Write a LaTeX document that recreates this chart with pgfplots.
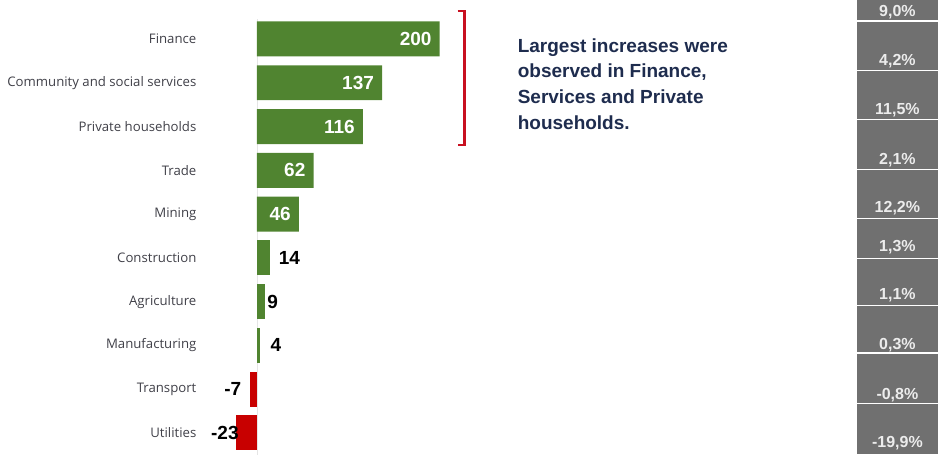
\documentclass[border=0pt]{standalone}
\usepackage{pgfplots}
\pgfplotsset{compat=1.18}
\usepackage{fontspec}
\setmainfont{Open Sans}
\newfontfamily\arialf{Liberation Sans}
\definecolor{barg}{RGB}{80,132,48}
\definecolor{barr}{RGB}{200,0,0}
\definecolor{catc}{RGB}{64,64,72}
\definecolor{notec}{RGB}{30,44,78}
\definecolor{pgray}{RGB}{112,112,112}
\definecolor{ptxt}{RGB}{236,236,236}
\definecolor{brk}{RGB}{200,16,32}
\begin{document}
\begin{tikzpicture}
\begin{axis}[
  scale only axis, width=939pt, height=454pt,
  xmin=-280.87, xmax=745.36,
  ymin=-0.8904, ymax=9.4749, y dir=reverse,
  axis line style={draw=none}, tick style={draw=none},
  xtick=\empty,
  ytick={0,...,9},
  yticklabels={Finance, Community and social services, Private households, Trade, Mining, Construction, Agriculture, Manufacturing, Transport, Utilities},
  yticklabel style={anchor=east, xshift=200pt, font=\fontsize{13.2}{15}\selectfont, text=catc},
  clip=false,
  /pgf/number format/assume math mode=true,
  every axis plot/.append style={bar width=35pt, bar shift=0pt},
  vallab/.style={nodes near coords, nodes near coords style={font=\arialf\bfseries\fontsize{19}{19}\selectfont, inner sep=0pt}},
]
% grey percentage column
\fill[pgray] (axis cs:656.8,-0.8904) rectangle (axis cs:745.36,9.4749);
\pgfplotsinvokeforeach{-0.411,0.724,1.833,2.975,4.094,5.007,6.096,7.176,8.333}{
  \draw[white, line width=1.2pt] (axis cs:656.8,#1) -- (axis cs:745.36,#1);
}
\draw[black!10] (axis cs:0,-0.45) -- (axis cs:0,9.5);
% bars
\addplot[xbar, fill=barg, draw=none, vallab, nodes near coords style={anchor=east, xshift=-8pt, text=white}]
  coordinates {(200,0) (137,1) (116,2) (62,3) (46,4)};
\addplot[xbar, fill=barg, draw=none, vallab, nodes near coords style={anchor=west, xshift=9pt, text=black}]
  coordinates {(14,5)};
\addplot[xbar, fill=barg, draw=none, vallab, nodes near coords style={anchor=west, xshift=2pt, text=black}]
  coordinates {(9,6)};
\addplot[xbar, fill=barg, draw=none, vallab, nodes near coords style={anchor=west, xshift=10pt, text=black}]
  coordinates {(4,7)};
\addplot[xbar, fill=barr, draw=none, vallab, nodes near coords style={anchor=east, xshift=-9pt, text=black}]
  coordinates {(-7,8)};
\addplot[xbar, fill=barr, draw=none, vallab, nodes near coords style={anchor=east, xshift=3pt, text=black}]
  coordinates {(-23,9)};
% percentages
\addplot[draw=none, mark=none, nodes near coords, point meta=explicit symbolic,
  nodes near coords style={anchor=center, font=\arialf\bfseries\fontsize{16}{16}\selectfont, text=ptxt}]
  table[meta=lab] {
x y lab
700.5 -0.623 {9,0\%}
700.5 0.518 {4,2\%}
700.5 1.621 {11,5\%}
700.5 2.763 {2,1\%}
700.5 3.858 {12,2\%}
700.5 4.749 {1,3\%}
700.5 5.845 {1,1\%}
700.5 6.986 {0,3\%}
700.5 8.128 {-0,8\%}
700.5 9.224 {-19,9\%}
};
% bracket
\draw[brk, line width=2.5pt] (axis cs:219.7,-0.639) -- (axis cs:227.3,-0.639) -- (axis cs:227.3,2.420) -- (axis cs:219.7,2.420);
% note
\node[anchor=north west, inner sep=0pt, align=left, text=notec,
  font=\arialf\bfseries\fontsize{19}{25.7}\selectfont]
  at (axis cs:285.2,-0.02) {Largest increases were\\observed in Finance,\\Services and Private\\households.};
\end{axis}
\end{tikzpicture}
\end{document}
